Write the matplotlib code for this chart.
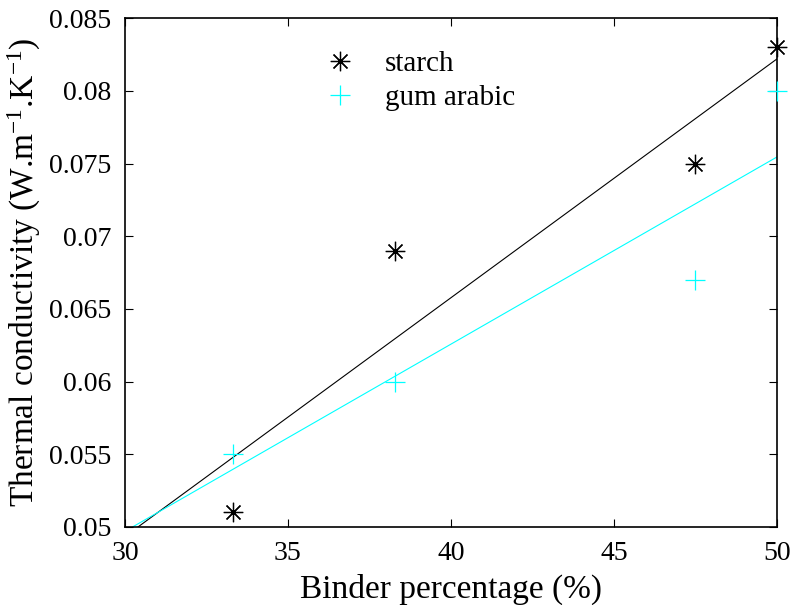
import numpy as np
import matplotlib
matplotlib.use("Agg")
import matplotlib.pyplot as plt
from matplotlib import font_manager

plt.rcParams['font.family'] = ['Liberation Serif', 'DejaVu Serif']
plt.rcParams['mathtext.fontset'] = 'custom'
plt.rcParams['mathtext.rm'] = 'Liberation Serif'
plt.rcParams['mathtext.default'] = 'regular'

serif_path = font_manager.findfont(font_manager.FontProperties(family='Liberation Serif'))

def serif(size):
    return font_manager.FontProperties(fname=serif_path, size=size)

# binder percentage (%)
binder = [33.3, 38.3, 47.5, 50.0]
# thermal conductivity (W/m.K)
starch = [0.051, 0.069, 0.075, 0.083]
gum_arabic = [0.055, 0.060, 0.067, 0.080]

xticks = [30, 35, 40, 45, 50]
yticks = [0.05, 0.055, 0.06, 0.065, 0.07, 0.075, 0.08, 0.085]
ytick_labels = ['0.05', '0.055', '0.06', '0.065', '0.07', '0.075', '0.08', '0.085']

fig = plt.figure(figsize=(7.91, 6.05), dpi=100)
ax = fig.add_axes([0.158, 0.129, 0.824, 0.841])

cyan = '#00ffff'

# linear fits, drawn across the whole x range and clipped by the axes
xfit = np.array([30, 50])
p_s = np.polyfit(binder, starch, 1)
p_g = np.polyfit(binder, gum_arabic, 1)
ax.plot(xfit, np.polyval(p_s, xfit), color='black', lw=0.8)
ax.plot(xfit, np.polyval(p_g, xfit), color=cyan, lw=0.8)

ax.plot(binder, starch, ls='none', marker=(8, 2, 0), ms=14, mew=0.9,
        color='black', label='starch', clip_on=False, zorder=5)
ax.plot(binder, gum_arabic, ls='none', marker='+', ms=15, mew=0.9,
        color=cyan, label='gum arabic', clip_on=False, zorder=5)

ax.set_xlim(30, 50)
ax.set_ylim(0.05, 0.085)
ax.tick_params(direction='in', length=6, width=0.8,
               top=True, right=True, pad=10)
ax.set_xticks(xticks)
ax.set_xticklabels([str(v) for v in xticks], fontproperties=serif(20))
ax.set_yticks(yticks)
ax.set_yticklabels(ytick_labels, fontproperties=serif(20))
for s in ax.spines.values():
    s.set_linewidth(1.2)

ax.set_xlabel('Binder percentage (%)', fontproperties=serif(24), labelpad=6)
ax.set_ylabel('Thermal conductivity (W.m$^{-1}$.K$^{-1}$)',
              fontproperties=serif(24), labelpad=4)

ax.legend(loc='upper left', bbox_to_anchor=(0.285, 0.959), frameon=False,
          prop=serif(21), handlelength=1.2, handletextpad=0.95, labelspacing=0.25,
          borderaxespad=0)

fig.savefig('out.png', dpi=100)
